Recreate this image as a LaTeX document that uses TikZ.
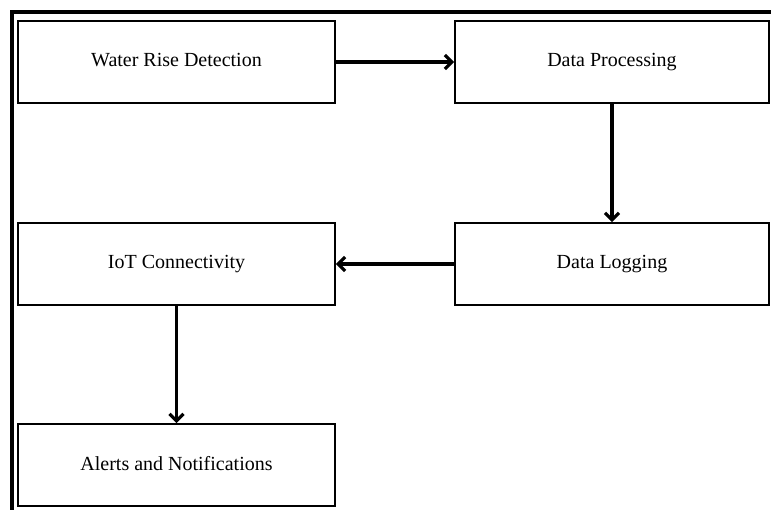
\documentclass[tikz,border=0pt]{standalone}
\usepackage{fontspec}
\setmainfont{Liberation Serif}
\usetikzlibrary{arrows.meta}

\begin{document}
\begin{tikzpicture}[x=1pt,y=-1pt,
stagebox/.style={draw, line width=1.8pt, minimum height=82pt, inner sep=0pt, text height=14pt, text depth=4pt, font=\fontsize{20}{24}\selectfont},
leftbox/.style={stagebox, minimum width=317pt},
rightbox/.style={stagebox, minimum width=314pt},
flow/.style={line width=3.2pt, -{Straight Barb[length=7pt,width=14pt,line width=3.2pt]}}]
    \useasboundingbox (0,0) rectangle (771,510);
    % frame, only top and left show
    \draw [line width=4pt] (12,512) -- (12,12) -- (773,12);

    \node [leftbox]  (detect)  at (176.5,62)  {Water Rise Detection};
    \node [rightbox] (process) at (612,62)    {Data Processing};
    \node [rightbox] (logging) at (612,264)   {Data Logging};
    \node [leftbox]  (iot)     at (176.5,264) {IoT Connectivity};
    \node [leftbox]  (alerts)  at (176.5,465) {Alerts and Notifications};

    \draw [flow] (detect) -- (process);
    \draw [flow] (process) -- (logging);
    \draw [flow] (logging) -- (iot);
    \draw [flow] (iot) -- (alerts);
\end{tikzpicture}
\end{document}
